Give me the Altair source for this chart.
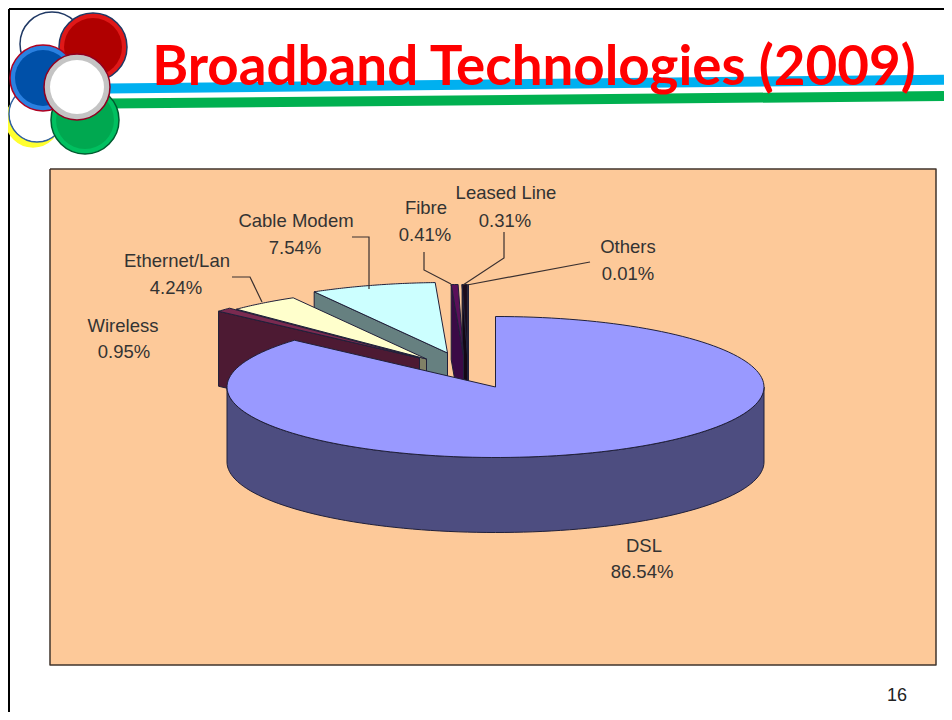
import math
import altair as alt
import pandas as pd

# --- data (anti-clockwise from 12 o'clock after the others)
names = ["Others", "Leased Line", "Fibre", "Cable Modem", "Ethernet/Lan", "Wireless", "DSL"]
shares = [0.01, 0.31, 0.41, 7.54, 4.24, 0.95, 86.54]
top_colors = ["#140814", "#1c0c1c", "#5a105a", "#ccffff", "#ffffcc", "#7a2a50", "#9999ff"]
wall_colors = ["#140814", "#140814", "#3a0a46", "#668080", "#808066", "#4d1a33", "#4d4d80"]

# --- layout constants
CX, CY, RX, RY, DEPTH = 495.5, 387.0, 268.5, 70.5, 75.0
apex_shift = {"Others": (-27, -32), "Leased Line": (-28, -32), "Fibre": (-32, -32),
              "Cable Modem": (-48, -34), "Ethernet/Lan": (-69, -28), "Wireless": (-76, -29),
              "DSL": (0, 0)}
label_pos = {"Others": (628, 247), "Leased Line": (506, 193), "Fibre": (426, 208),
             "Cable Modem": (296, 221), "Ethernet/Lan": (177, 261), "Wireless": (123, 326),
             "DSL": (644, 546)}
value_pos = {"Others": (628, 274), "Leased Line": (505, 221), "Fibre": (425, 235),
             "Cable Modem": (295, 248), "Ethernet/Lan": (176, 288), "Wireless": (124, 352),
             "DSL": (642, 572)}
leaders = [
    [(232, 277), (250, 277), (262, 302)],
    [(352, 237), (369, 237), (369, 289)],
    [(424, 252), (424, 270), (451, 284)],
    [(504, 232), (504, 258), (463, 285)],
    [(590, 262), (467, 285)],
]
# logo: x, y, radius, ring fill, inner fill, outline, inner radius
logo = [
    (33, 120, 27, "#ffff30", "#ffff30", "#ffff30", 27),
    (37, 114, 28, "#ffffff", "#ffffff", "#3060a0", 27),
    (52, 44, 32, "#ffffff", "#ffffff", "#1f3864", 29),
    (93, 47, 34, "#e01818", "#b00000", "#1f3864", 29),
    (85, 120, 34, "#00c060", "#00a850", "#005a30", 29),
    (43, 78, 33, "#2a80e0", "#0050a8", "#b00020", 28),
    (77, 87, 33, "#c4c4c4", "#ffffff", "#900020", 27),
]

X = alt.X("x:Q", scale=alt.Scale(domain=[8, 944], nice=False, zero=False), axis=None)
Y = alt.Y("y:Q", scale=alt.Scale(domain=[712, 8], nice=False, zero=False), axis=None)


def polygon(pts, fill, stroke="#20203a", sw=1.0):
    pts = list(pts) + [pts[0]]
    df = pd.DataFrame({"x": [p[0] for p in pts], "y": [p[1] for p in pts], "i": range(len(pts))})
    return alt.Chart(df).mark_line(fill=fill, stroke=stroke, strokeWidth=sw, strokeJoin="round",
                                   interpolate="linear").encode(x=X, y=Y, order="i:Q")


def polyline(pts, stroke="#3a3030", sw=1.2):
    df = pd.DataFrame({"x": [p[0] for p in pts], "y": [p[1] for p in pts], "i": range(len(pts))})
    return alt.Chart(df).mark_line(stroke=stroke, strokeWidth=sw).encode(x=X, y=Y, order="i:Q")


def rule(x1, y1, x2, y2, color, sw):
    df = pd.DataFrame({"x": [x1], "y": [y1], "x2": [x2], "y2": [y2]})
    return alt.Chart(df).mark_rule(color=color, strokeWidth=sw).encode(x=X, y=Y, x2="x2:Q", y2="y2:Q")


def rim(theta_deg, ax, ay):
    t = math.radians(theta_deg)
    return (ax - RX * math.sin(t), ay - RY * math.cos(t))


def arc(a, b, ax, ay, step=2.0):
    n = max(1, int(abs(b - a) / step))
    return [rim(a + (b - a) * k / n, ax, ay) for k in range(n + 1)]


layers = []
# slide frame
layers.append(rule(9, 9, 944, 9, "#000000", 2))
layers.append(rule(9, 9, 9, 712, "#000000", 2))

# peach panel
layers.append(polygon([(50, 169), (936, 169), (936, 665), (50, 665)], "#fdc999", "#40342c", 1.5))

# slices, back to front
start = 0.0
for name, share, top, wall in zip(names, shares, top_colors, wall_colors):
    sweep = share * 3.6
    end = start + sweep
    ax = CX + apex_shift[name][0]
    ay = CY + apex_shift[name][1]
    if name == "DSL":
        layers.append(polygon(arc(90, 270, ax, ay) + arc(270, 90, ax, ay + DEPTH), wall))
        layers.append(polygon([(ax, ay)] + arc(start, 360, ax, ay), top))
    else:
        o = rim(end, ax, ay)
        layers.append(polygon([o, (ax, ay), (ax, ay + DEPTH), (o[0], o[1] + DEPTH)], wall))
        layers.append(polygon([(ax, ay)] + arc(start, end, ax, ay, 0.5), top))
    start = end

# leader lines
for pts in leaders:
    layers.append(polyline(pts))

# labels
lab = pd.DataFrame({
    "x": [label_pos[n][0] for n in names] + [value_pos[n][0] for n in names],
    "y": [label_pos[n][1] for n in names] + [value_pos[n][1] for n in names],
    "t": names + [f"{s:.2f}%" for s in shares],
})
layers.append(alt.Chart(lab).mark_text(font="Liberation Sans", fontSize=18.5, color="#333333",
                                       align="center", baseline="middle").encode(x=X, y=Y, text="t:N"))

# title bars
layers.append(rule(108, 88.5, 944, 79.7, "#00b0f0", 10))
layers.append(rule(108, 103.5, 944, 96, "#00b050", 10))

# logo
for (x, y, r, ring, inner, line, ri) in logo:
    df = pd.DataFrame({"x": [x], "y": [y]})
    layers.append(alt.Chart(df).mark_point(filled=True, shape="circle", size=(2 * r) ** 2, fill=ring,
                                           stroke=line, strokeWidth=1.5, opacity=1).encode(x=X, y=Y))
    layers.append(alt.Chart(df).mark_point(filled=True, shape="circle", size=(2 * ri) ** 2, fill=inner,
                                           stroke=None, opacity=1).encode(x=X, y=Y))

# title and page number
title_df = pd.DataFrame({"x": [534], "y": [85], "t": ["Broadband Technologies (2009)"]})
layers.append(alt.Chart(title_df).mark_text(font="Lato", fontWeight="bold", fontSize=54.7, color="#ff0000",
                                            align="center", baseline="alphabetic").encode(x=X, y=Y, text="t:N"))
page_df = pd.DataFrame({"x": [897], "y": [696], "t": ["16"]})
layers.append(alt.Chart(page_df).mark_text(font="Liberation Sans", fontSize=18, color="#222222",
                                           align="center", baseline="middle").encode(x=X, y=Y, text="t:N"))

chart = alt.layer(*layers).properties(
    width=936, height=704, padding=0, background="#ffffff",
    autosize=alt.AutoSizeParams(type="none"),
).configure_view(stroke=None)

chart.save("out.html", embed_options={"renderer": "svg", "actions": False})
